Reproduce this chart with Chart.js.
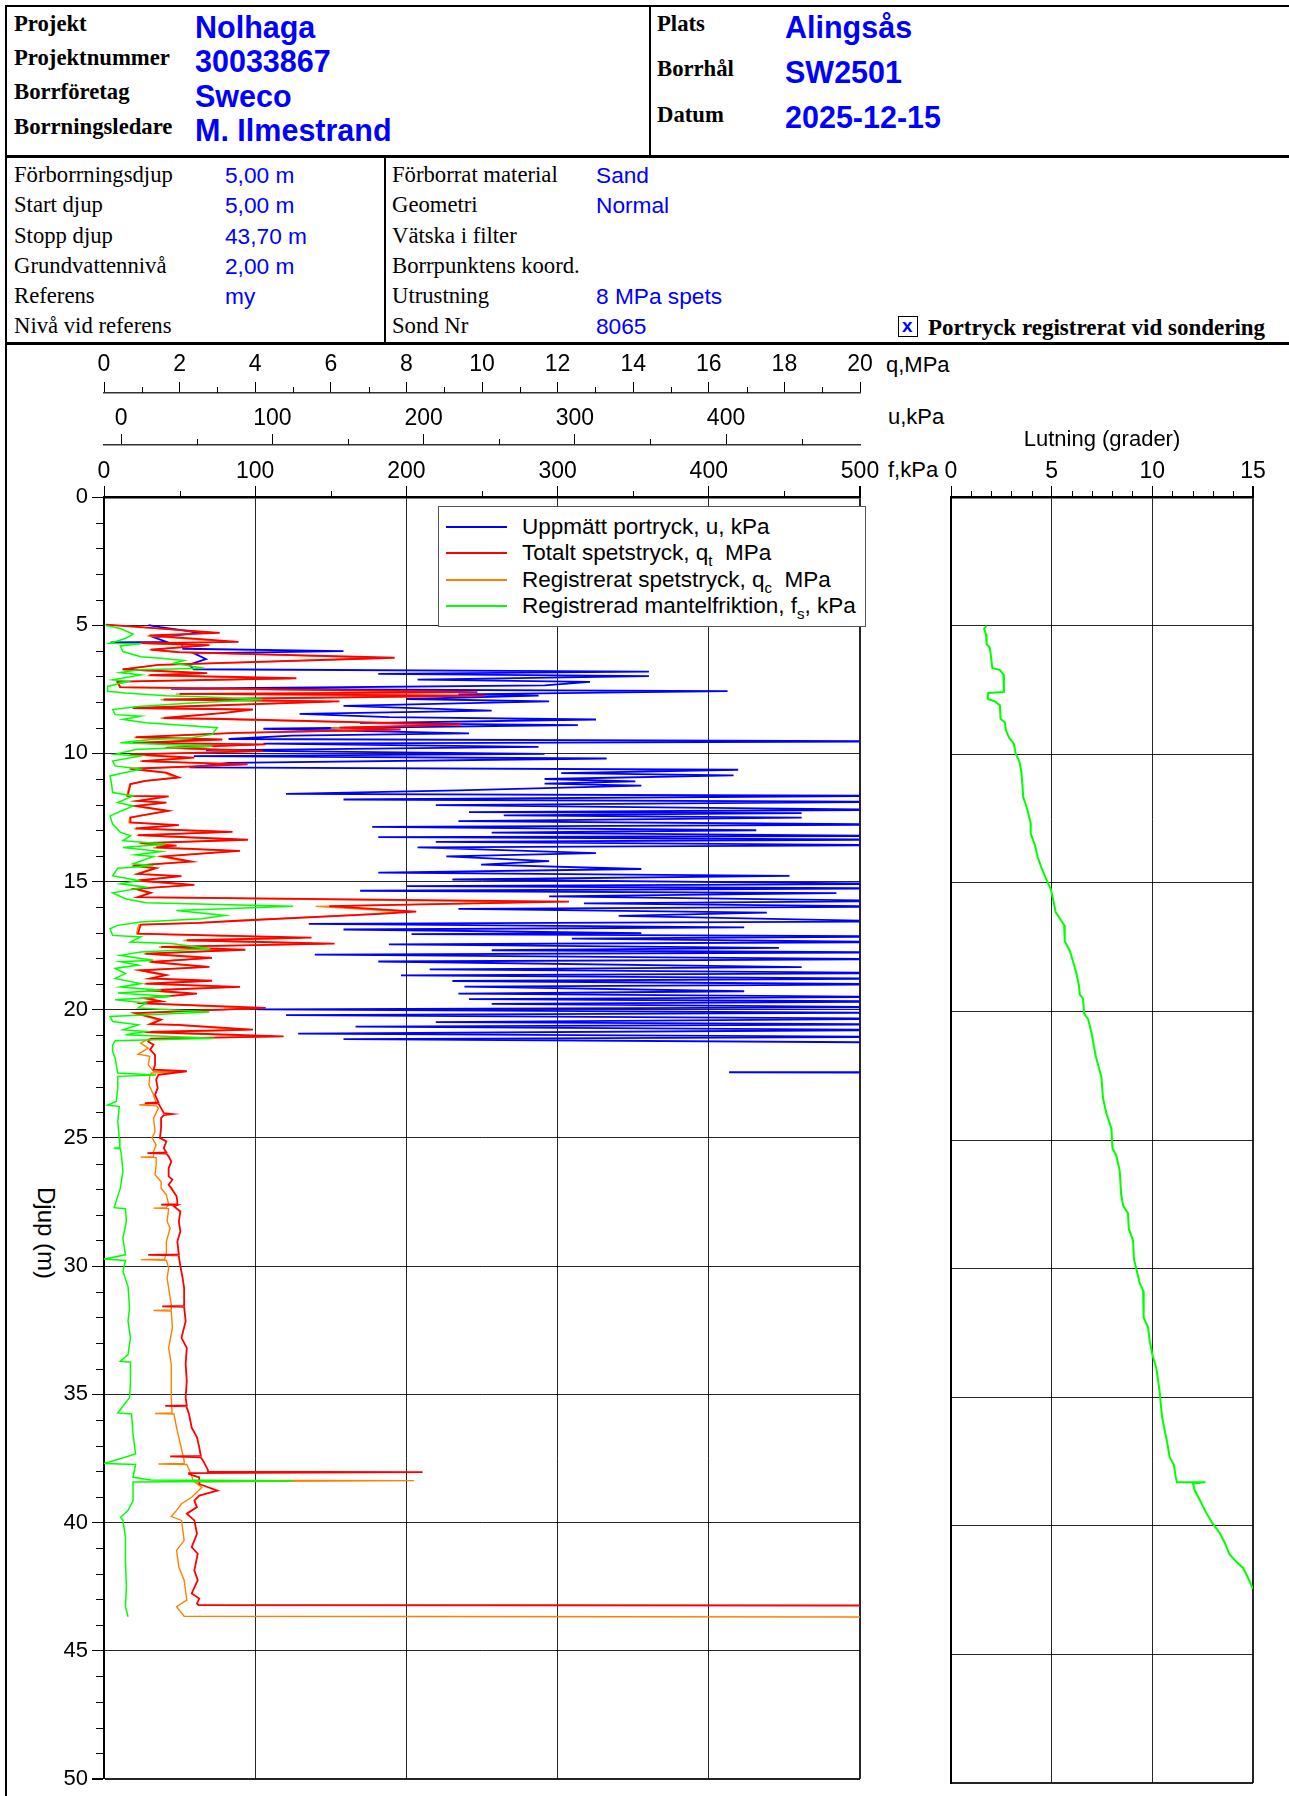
<!DOCTYPE html>
<html lang="sv">
<head>
<meta charset="utf-8">
<title>CPT-sondering SW2501 Nolhaga</title>
<script src="https://cdn.jsdelivr.net/npm/chart.js@4.4.1/dist/chart.umd.min.js"></script>
<style>
  html, body { margin: 0; padding: 0; background: #fff; }
  body { width: 1289px; height: 1796px; position: relative; overflow: hidden; font-family: "Liberation Sans", Arial, sans-serif; }
  .t { position: absolute; white-space: pre; line-height: 1; transform: translateY(-50%); }
  .rule { position: absolute; background: #000; }
  .lbl { font-family: "Liberation Serif", "Times New Roman", serif; font-size: 22.7px; color: #000; }
  .lbl.b { font-weight: bold; }
  .val { color: #0000ff; font-size: 22.7px; }
  .big { color: #0000ff; font-size: 30.5px; font-weight: bold; }
  .unit { font-size: 22px; color: #000; }
  #legend { position: absolute; left: 438px; top: 506px; width: 426px; height: 119px; border: 1.5px solid #555; background: #fff; }
  #legend .row { position: absolute; left: 0; height: 26px; width: 100%; }
  #legend .sw { position: absolute; left: 7px; top: 12px; width: 61px; height: 1.5px; }
  #legend .tx { position: absolute; left: 83px; top: 1px; font-size: 22.5px; white-space: pre; line-height: 24px; }
  #legend sub { font-size: 15px; vertical-align: -6px; line-height: 0; }
  canvas { position: absolute; }
</style>
</head>
<body>
<!-- ramar -->
<div class="rule" style="left:5px; top:5px; width:1284px; height:2px"></div>
<div class="rule" style="left:5px; top:5px; width:2px; height:1791px"></div>
<div class="rule" style="left:649px; top:5px; width:2px; height:152px"></div>
<div class="rule" style="left:5px; top:155px; width:1284px; height:3px"></div>
<div class="rule" style="left:384px; top:157px; width:1.5px; height:187px"></div>
<div class="rule" style="left:5px; top:342px; width:1284px; height:2.5px"></div>

<!-- huvud -->
<div class="t lbl b" style="left:14px; top:24px">Projekt</div>
<div class="t lbl b" style="left:14px; top:58px">Projektnummer</div>
<div class="t lbl b" style="left:14px; top:92px">Borrföretag</div>
<div class="t lbl b" style="left:14px; top:127px">Borrningsledare</div>
<div class="t big" style="left:195px; top:27px">Nolhaga</div>
<div class="t big" style="left:195px; top:61px">30033867</div>
<div class="t big" style="left:195px; top:96px">Sweco</div>
<div class="t big" style="left:195px; top:130px">M. Ilmestrand</div>
<div class="t lbl b" style="left:657px; top:24px">Plats</div>
<div class="t lbl b" style="left:657px; top:69px">Borrhål</div>
<div class="t lbl b" style="left:657px; top:115px">Datum</div>
<div class="t big" style="left:785px; top:27px">Alingsås</div>
<div class="t big" style="left:785px; top:72px">SW2501</div>
<div class="t big" style="left:785px; top:117px">2025-12-15</div>

<!-- info -->
<div class="t lbl" style="left:14px; top:175px">Förborrningsdjup</div>
<div class="t lbl" style="left:14px; top:205px">Start djup</div>
<div class="t lbl" style="left:14px; top:236px">Stopp djup</div>
<div class="t lbl" style="left:14px; top:266px">Grundvattennivå</div>
<div class="t lbl" style="left:14px; top:296px">Referens</div>
<div class="t lbl" style="left:14px; top:326px">Nivå vid referens</div>
<div class="t val" style="left:225px; top:175px">5,00 m</div>
<div class="t val" style="left:225px; top:205px">5,00 m</div>
<div class="t val" style="left:225px; top:236px">43,70 m</div>
<div class="t val" style="left:225px; top:266px">2,00 m</div>
<div class="t val" style="left:225px; top:296px">my</div>
<div class="t lbl" style="left:392px; top:175px">Förborrat material</div>
<div class="t lbl" style="left:392px; top:205px">Geometri</div>
<div class="t lbl" style="left:392px; top:236px">Vätska i filter</div>
<div class="t lbl" style="left:392px; top:266px">Borrpunktens koord.</div>
<div class="t lbl" style="left:392px; top:296px">Utrustning</div>
<div class="t lbl" style="left:392px; top:326px">Sond Nr</div>
<div class="t val" style="left:596px; top:175px">Sand</div>
<div class="t val" style="left:596px; top:205px">Normal</div>
<div class="t val" style="left:596px; top:296px">8 MPa spets</div>
<div class="t val" style="left:596px; top:326px">8065</div>
<div style="position:absolute; left:898px; top:316px; width:18px; height:19px; border:1.5px solid #000;"></div>
<div class="t" style="left:902px; top:325px; color:#0000ff; font-size:19px; font-weight:bold">x</div>
<div class="t lbl b" style="left:928px; top:327px; font-size:23px">Portryck registrerat vid sondering</div>

<!-- axelenheter -->
<div class="t unit" style="left:886px; top:365px">q,MPa</div>
<div class="t unit" style="left:888px; top:417px">u,kPa</div>
<div class="t unit" style="left:888px; top:470px">f,kPa</div>
<div class="t unit" style="left:46px; top:1233px; transform:translate(-50%,-50%) rotate(90deg); font-size:24px">Djup (m)</div>

<canvas id="main" width="900" height="1452" style="left:8px; top:344px; width:900px; height:1452px"></canvas>
<canvas id="lut" width="409" height="1452" style="left:880px; top:344px; width:409px; height:1452px"></canvas>

<div id="legend">
  <div class="row" style="top:7px"><div class="sw" style="background:#0000ff"></div><div class="tx">Uppmätt portryck, u, kPa</div></div>
  <div class="row" style="top:33px"><div class="sw" style="background:#ff0000"></div><div class="tx">Totalt spetstryck, q<sub>t</sub>  MPa</div></div>
  <div class="row" style="top:60px"><div class="sw" style="background:#ff8000"></div><div class="tx">Registrerat spetstryck, q<sub>c</sub>  MPa</div></div>
  <div class="row" style="top:86px"><div class="sw" style="background:#00ff00"></div><div class="tx">Registrerad mantelfriktion, f<sub>s</sub>, kPa</div></div>
</div>

<script>
(function () {
  "use strict";

  // axlar
  const fTicks = [0, 100, 200, 300, 400, 500];
  const fMinor = [50, 150, 250, 350, 450];
  const uTicks = [0, 100, 200, 300, 400];
  const uMinor = [50, 150, 250, 350, 450];
  const qTicks = [0, 2, 4, 6, 8, 10, 12, 14, 16, 18, 20];
  const qMinor = [1, 3, 5, 7, 9, 11, 13, 15, 17, 19];
  const depthTicks = [0, 5, 10, 15, 20, 25, 30, 35, 40, 45, 50];
  const depthMinor = [1, 2, 3, 4, 6, 7, 8, 9, 11, 12, 13, 14, 16, 17, 18, 19, 21, 22, 23, 24,
    26, 27, 28, 29, 31, 32, 33, 34, 36, 37, 38, 39, 41, 42, 43, 44, 46, 47, 48, 49];
  const lutTicks = [0, 5, 10, 15];
  const lutMinor = [1, 2, 3, 4, 6, 7, 8, 9, 11, 12, 13, 14];
  const uRange = [-11.4, 488.6];

  // [djup m, u kPa]
  const uPts = [
    [5.0, 18], [5.08, 26], [5.3, 52], [5.48, 22], [5.65, 30], [5.67, -7], [5.7, 40], [5.92, 41], [6.01, 147],
    [6.1, 48], [6.32, 56], [6.54, 45], [6.72, 48], [6.81, 349], [6.9, 170], [6.99, 349], [7.12, 196], [7.21, 310],
    [7.35, 280], [7.48, 33], [7.57, 401], [7.7, 223], [7.75, 276], [7.88, 189], [7.97, 283], [8.15, 147],
    [8.33, 245], [8.46, 118], [8.59, 177], [8.68, 314], [8.82, 158], [8.9, 302], [9.04, 94], [9.22, 230],
    [9.31, 113], [9.44, 71], [9.53, 540], [9.62, 94], [9.75, 276], [9.88, 56], [10.02, 280], [10.11, 48],
    [10.2, 321], [10.37, 71], [10.55, 45], [10.64, 408], [10.77, 291], [10.86, 405], [11.0, 280], [11.09, 340],
    [11.18, 280], [11.26, 344], [11.44, 223], [11.58, 109], [11.66, 520], [11.8, 147], [11.89, 520], [12.02, 208],
    [12.2, 520], [12.29, 230], [12.33, 450], [12.42, 253], [12.51, 450], [12.64, 223], [12.78, 520], [12.87, 166],
    [13.0, 420], [13.09, 245], [13.22, 520], [13.27, 170], [13.36, 520], [13.45, 208], [13.58, 520], [13.67, 196],
    [13.89, 314], [14.02, 215], [14.2, 283], [14.34, 238], [14.51, 344], [14.65, 170], [14.78, 442], [14.92, 219],
    [15.09, 520], [15.18, 189], [15.27, 520], [15.36, 158], [15.45, 473], [15.58, 283], [15.76, 520], [15.85, 306],
    [15.98, 520], [16.07, 223], [16.21, 427], [16.34, 329], [16.56, 520], [16.65, 124], [16.79, 412], [16.87, 147],
    [17.01, 344], [17.05, 192], [17.14, 520], [17.23, 298], [17.36, 520], [17.45, 177], [17.59, 435], [17.68, 245],
    [17.76, 520], [17.85, 128], [18.03, 520], [18.12, 170], [18.34, 450], [18.43, 204], [18.57, 520], [18.66, 185],
    [18.79, 520], [18.88, 219], [19.01, 520], [19.1, 227], [19.28, 412], [19.37, 223], [19.5, 520], [19.59, 230],
    [19.68, 520], [19.77, 245], [19.9, 520], [19.99, 90], [20.12, 520], [20.21, 109], [20.35, 520], [20.48, 208],
    [20.57, 520], [20.66, 155], [20.79, 520], [20.93, 117], [21.06, 520], [21.15, 147], [21.28, 520],
    [22.43, 560], [22.44, 402], [22.46, 560]
  ];

  // [djup m, qt MPa]
  const qtPts = [
    [4.98, 0.05], [5.3, 3.06], [5.4, 1.2], [5.65, 3.56], [5.7, 1.0], [5.78, 2.79], [5.95, 1.24], [6.05, 2.0],
    [6.27, 7.69], [6.55, 1.44], [6.72, 0.5], [6.87, 2.73], [6.95, 1.2], [7.07, 5.09], [7.2, 0.36], [7.42, 0.43],
    [7.61, 9.88], [7.68, 2.0], [7.75, 10.08], [7.9, 1.58], [7.97, 6.23], [8.23, 0.77], [8.29, 3.94], [8.42, 3.2],
    [8.62, 1.58], [8.66, 3.2], [8.88, 9.47], [9.0, 6.23], [9.07, 7.85], [9.2, 3.5], [9.37, 0.84], [9.46, 3.13],
    [9.59, 0.77], [9.65, 4.28], [9.78, 1.65], [9.91, 4.21], [10.04, 0.7], [10.17, 2.39], [10.3, 1.0], [10.43, 3.8],
    [10.6, 0.7], [10.75, 1.65], [10.94, 1.98], [11.07, 1.1], [11.2, 0.7], [11.66, 0.63], [11.68, 1.71], [11.85, 0.9],
    [11.92, 1.65], [12.05, 0.84], [12.24, 1.71], [12.5, 0.7], [12.69, 0.7], [12.8, 1.98], [12.93, 0.84], [13.06, 3.4],
    [13.19, 0.9], [13.37, 3.81], [13.5, 0.97], [13.6, 1.92], [13.67, 1.38], [13.8, 3.6], [14.02, 1.58], [14.22, 2.32],
    [14.38, 0.77], [14.48, 1.38], [14.7, 0.9], [14.79, 2.05], [14.96, 0.9], [15.13, 2.39], [15.28, 0.84], [15.44, 1.24],
    [15.61, 0.9], [15.78, 12.3], [15.96, 5.96], [16.17, 8.26], [16.26, 7.31], [16.52, 3.67], [16.61, 2.52], [16.68, 0.97],
    [17.03, 0.9], [17.19, 5.49], [17.29, 2.19], [17.42, 6.1], [17.55, 1.51], [17.66, 3.74], [17.81, 1.1], [17.98, 2.86],
    [18.13, 1.24], [18.33, 2.79], [18.46, 0.97], [18.65, 1.65], [18.78, 1.24], [18.87, 2.86], [18.98, 1.1], [19.11, 3.6],
    [19.24, 1.17], [19.37, 2.46], [19.55, 1.1], [19.67, 1.51], [19.74, 0.9], [19.93, 4.28], [20.13, 0.84], [20.39, 1.51],
    [20.56, 1.24], [20.59, 1.98], [20.78, 3.94], [20.87, 1.1], [21.04, 4.75], [21.13, 1.24], [21.24, 1.17], [21.37, 1.31],
    [21.56, 1.22], [21.76, 1.35], [22.15, 1.35], [22.34, 1.31], [22.4, 2.19], [22.54, 1.44], [22.73, 1.38], [23.06, 1.42],
    [23.32, 1.35], [23.62, 1.44], [23.64, 1.08], [23.66, 1.44], [23.84, 1.51], [24.03, 1.58], [24.07, 1.81], [24.11, 1.58],
    [24.23, 1.51], [24.62, 1.51], [25.0, 1.48], [25.14, 1.65], [25.4, 1.58], [25.57, 1.65], [25.59, 1.15], [25.61, 1.65],
    [25.72, 1.71], [25.92, 1.78], [26.18, 1.71], [26.5, 1.71], [26.63, 1.81], [26.83, 1.71], [26.96, 1.78], [27.28, 1.92],
    [27.48, 1.94], [27.58, 1.94], [27.6, 1.51], [27.62, 1.94], [27.67, 1.85], [27.87, 2.02], [28.26, 1.98], [28.65, 2.02],
    [29.04, 1.94], [29.54, 1.98], [29.56, 1.17], [29.58, 1.98], [29.62, 1.98], [30.0, 2.02], [30.47, 2.08], [30.86, 2.12],
    [31.37, 2.12], [31.55, 2.12], [31.57, 1.54], [31.59, 2.12], [32.15, 2.16], [32.8, 2.05], [33.19, 2.19], [33.83, 2.16],
    [34.48, 2.19], [35.13, 2.16], [35.43, 2.19], [35.45, 1.62], [35.47, 2.19], [35.52, 2.19], [35.78, 2.25], [36.3, 2.32],
    [36.68, 2.46], [37.07, 2.52], [37.4, 2.56], [37.42, 1.75], [37.46, 2.56], [37.59, 2.62], [37.95, 2.75], [38.02, 2.75],
    [38.04, 8.43], [38.08, 2.25], [38.11, 2.25], [38.24, 2.52], [38.5, 2.52], [38.76, 3.0], [38.95, 2.52], [39.15, 2.39],
    [39.4, 2.46], [39.66, 2.19], [39.92, 2.39], [40.44, 2.46], [40.96, 2.32], [41.22, 2.48], [41.87, 2.39], [42.25, 2.48],
    [42.77, 2.32], [42.97, 2.52], [43.16, 2.46], [43.22, 2.5], [43.25, 30]
  ];

  // [djup m, qc MPa]
  const qcPts = [
    [4.98, 0.05], [5.3, 2.95], [5.42, 1.15], [5.66, 3.4], [5.71, 0.95], [5.79, 2.7], [5.96, 1.2], [6.06, 1.9],
    [6.28, 7.5], [6.56, 1.4], [6.73, 0.48], [6.88, 2.65], [6.96, 1.15], [7.08, 4.95], [7.21, 0.34], [7.43, 0.42],
    [7.62, 9.6], [7.69, 1.9], [7.76, 9.75], [7.91, 1.5], [7.98, 6.0], [8.24, 0.75], [8.3, 3.8], [8.43, 3.1],
    [8.63, 1.5], [8.67, 3.1], [8.89, 9.2], [9.01, 6.0], [9.08, 7.6], [9.21, 3.4], [9.38, 0.8], [9.47, 3.0],
    [9.6, 0.75], [9.66, 4.1], [9.79, 1.6], [9.92, 4.05], [10.05, 0.68], [10.18, 2.3], [10.31, 0.95], [10.44, 3.65],
    [10.61, 0.68], [10.76, 1.6], [10.95, 1.9], [11.08, 1.05], [11.21, 0.68], [11.67, 0.6], [11.69, 1.62], [11.86, 0.86],
    [11.93, 1.58], [12.06, 0.8], [12.25, 1.62], [12.51, 0.68], [12.7, 0.66], [12.81, 1.88], [12.94, 0.8], [13.07, 3.25],
    [13.2, 0.86], [13.38, 3.65], [13.51, 0.92], [13.61, 1.82], [13.68, 1.3], [13.81, 3.45], [14.03, 1.5], [14.23, 2.2],
    [14.39, 0.74], [14.49, 1.3], [14.71, 0.86], [14.8, 1.95], [14.97, 0.86], [15.14, 2.28], [15.29, 0.8], [15.45, 1.18],
    [15.62, 0.86], [15.8, 11.5], [15.97, 5.6], [16.18, 7.9], [16.27, 7.0], [16.53, 3.5], [16.62, 2.4], [16.69, 0.92],
    [17.04, 0.86], [17.2, 5.25], [17.3, 2.1], [17.43, 5.85], [17.56, 1.45], [17.67, 3.55], [17.82, 1.05], [17.99, 2.72],
    [18.14, 1.18], [18.34, 2.66], [18.47, 0.92], [18.66, 1.58], [18.79, 1.18], [18.88, 2.72], [18.99, 1.05], [19.12, 3.42],
    [19.25, 1.12], [19.38, 2.35], [19.56, 1.05], [19.68, 1.45], [19.75, 0.86], [19.94, 4.05], [20.14, 0.8], [20.4, 1.45],
    [20.57, 1.18], [20.6, 1.88], [20.79, 3.75], [20.88, 1.05], [21.05, 4.5], [21.14, 1.18], [21.3, 0.97], [21.5, 1.17],
    [21.73, 0.9], [21.82, 1.21], [22.15, 1.17], [22.4, 1.31], [22.43, 2.05], [22.47, 1.25], [22.6, 1.21], [22.93, 1.19],
    [23.32, 1.31], [23.64, 1.38], [23.71, 0.93], [23.75, 1.38], [23.84, 1.44], [24.23, 1.31], [24.75, 1.35], [25.0, 1.27],
    [25.27, 1.38], [25.53, 1.31], [25.73, 1.31], [25.75, 0.97], [25.77, 1.38], [26.05, 1.38], [26.44, 1.35], [26.7, 1.51],
    [26.96, 1.51], [27.22, 1.65], [27.6, 1.71], [27.72, 1.65], [27.74, 1.31], [27.76, 1.71], [28.26, 1.67], [28.52, 1.75],
    [29.04, 1.65], [29.5, 1.65], [29.73, 1.6], [29.75, 0.97], [29.77, 1.65], [30.08, 1.71], [30.47, 1.67], [30.86, 1.71],
    [31.5, 1.78], [31.71, 1.78], [31.73, 1.31], [31.75, 1.78], [32.4, 1.81], [33.19, 1.71], [33.83, 1.78], [34.48, 1.78],
    [35.13, 1.78], [35.73, 1.8], [35.75, 1.35], [35.77, 1.85], [36.3, 1.92], [36.94, 2.02], [37.59, 2.12], [37.7, 2.12],
    [37.72, 1.44], [37.74, 2.19], [38.17, 2.32], [38.35, 2.35], [38.37, 8.2], [38.41, 2.39], [38.63, 2.59], [39.02, 2.32],
    [39.27, 2.05], [39.53, 1.92], [39.77, 1.78], [39.92, 2.05], [40.7, 2.12], [41.09, 1.92], [41.74, 1.98], [42.25, 2.12],
    [43.03, 2.19], [43.29, 1.92], [43.66, 2.12], [43.7, 30]
  ];

  // [djup m, fs kPa]
  const fsPts = [
    [5.0, 0.7], [5.13, 10.8], [5.35, 19.2], [5.52, 14.2], [5.71, 4.0], [5.72, 24.3], [5.81, 10.8], [6.03, 12.5],
    [6.23, 24.3], [6.29, 37.8], [6.38, 53.0], [6.49, 46.2], [6.68, 66.5], [6.74, 22.6], [6.85, 10.8], [6.94, 24.3],
    [7.13, 5.7], [7.2, 15.9], [7.39, 2.4], [7.58, 2.4], [7.65, 14.2], [7.75, 41.2], [7.8, 68.2], [7.9, 105],
    [8.04, 58], [8.17, 22.6], [8.29, 5.7], [8.49, 7.4], [8.55, 24.3], [8.68, 12.5], [8.81, 27.7], [9.0, 74.9],
    [9.26, 71.5], [9.39, 58], [9.46, 31], [9.59, 10.8], [9.65, 41.2], [9.72, 71.5], [9.85, 20.9], [10.04, 7.4],
    [10.1, 24.3], [10.3, 5.7], [10.49, 7.4], [10.62, 24.3], [10.75, 14.2], [10.88, 4.0], [11.2, 5.0], [11.53, 5.7],
    [11.66, 19.2], [11.92, 9.1], [12.05, 19.2], [12.44, 4.0], [12.76, 5.7], [13.08, 10.8], [13.21, 17.5], [13.41, 12.5],
    [13.54, 41.2], [13.67, 12.5], [13.83, 37.8], [13.96, 20.9], [14.02, 32.7], [14.31, 19.2], [14.38, 32.7], [14.48, 9.1],
    [14.77, 5.7], [14.96, 22.6], [15.09, 10.8], [15.22, 27.7], [15.44, 5.7], [15.67, 14.2], [15.83, 27.7], [15.96, 125],
    [16.13, 47.9], [16.32, 80], [16.45, 64.8], [16.58, 24.3], [16.71, 9.1], [16.84, 4.0], [17.1, 5.7], [17.16, 24.3],
    [17.36, 17.5], [17.42, 44.5], [17.62, 70], [17.75, 24.3], [17.88, 10.8], [18.07, 32.7], [18.13, 10.8], [18.26, 22.6],
    [18.39, 7.4], [18.59, 14.2], [18.78, 7.4], [18.98, 24.3], [19.11, 10.8], [19.24, 37.8], [19.35, 9.1], [19.48, 44.5],
    [19.61, 7.4], [19.74, 27.7], [19.93, 22.6], [20.09, 69.8], [20.26, 4.0], [20.46, 5.7], [20.59, 22.6], [20.78, 12.5],
    [20.85, 27.7], [20.98, 14.2], [21.11, 73.2], [21.21, 7.4], [21.37, 5.7], [21.63, 5.7], [21.89, 7.4], [22.47, 9.1],
    [22.55, 34.4], [22.6, 9.1], [23.06, 9.1], [23.58, 8.1], [23.72, 2.4], [23.78, 10.1], [24.36, 9.1], [25.0, 10.1],
    [25.38, 10.5], [25.4, 6.5], [25.42, 10.8], [25.66, 11.5], [26.31, 12.5], [26.96, 10.8], [27.72, 6.7], [27.76, 14.2],
    [28.26, 14.8], [28.91, 12.5], [29.56, 14.2], [29.72, 0], [29.78, 14.2], [30.2, 12.5], [30.8, 15.9], [31.63, 16.9],
    [32.15, 15.9], [32.8, 17.5], [33.45, 15.9], [33.71, 10.8], [33.75, 17.5], [34.48, 17.5], [35.13, 16.9], [35.73, 9.1],
    [35.77, 18.2], [36.55, 19.2], [37.33, 20.9], [37.7, 0], [37.74, 20.9], [38.24, 19.2], [38.34, 31], [38.38, 125],
    [38.42, 19.2], [38.5, 19.2], [39.15, 19.2], [39.53, 15.9], [39.8, 11], [39.92, 12.5], [40.57, 14.2], [41.48, 14.2],
    [42.51, 14.8], [43.29, 14.2], [43.68, 15.9]
  ];

  // [djup m, lutning grader]
  const lutPts = [
    [5.0, 1.77], [5.12, 1.64], [5.34, 1.74], [5.72, 1.77], [5.86, 1.93], [6.16, 1.98], [6.65, 2.05], [6.73, 2.43],
    [6.9, 2.6], [7.58, 2.63], [7.62, 1.85], [7.85, 1.82], [7.95, 2.18], [8.1, 2.43], [8.62, 2.46], [8.77, 2.68],
    [9.07, 2.73], [9.37, 2.89], [9.59, 3.12], [10.0, 3.22], [10.26, 3.39], [10.7, 3.5], [11.68, 3.59], [12.12, 3.78],
    [12.65, 3.95], [13.1, 3.96], [13.54, 4.17], [13.99, 4.3], [14.43, 4.5], [14.88, 4.74], [15.25, 4.96], [15.78, 5.11],
    [16.15, 5.2], [16.64, 5.62], [17.27, 5.65], [17.64, 5.9], [18.16, 6.1], [18.53, 6.23], [18.98, 6.35], [19.35, 6.4],
    [19.5, 6.56], [20.08, 6.61], [20.3, 6.81], [20.84, 6.98], [21.74, 7.19], [22.56, 7.47], [23.38, 7.55], [23.97, 7.72],
    [24.57, 7.97], [25.31, 8.02], [25.61, 8.21], [26.2, 8.38], [27.1, 8.45], [27.55, 8.55], [27.85, 8.79], [28.45, 8.83],
    [28.9, 9.04], [29.65, 9.09], [30.03, 9.21], [30.56, 9.37], [30.86, 9.54], [31.91, 9.57], [32.29, 9.79], [32.82, 9.87],
    [33.34, 10.0], [33.87, 10.2], [34.77, 10.36], [35.75, 10.48], [36.28, 10.61], [36.73, 10.73], [37.33, 10.86],
    [37.64, 11.07], [38.09, 11.16], [38.31, 11.22], [38.31, 12.64], [38.36, 12.02], [38.61, 12.1], [38.99, 12.35],
    [39.44, 12.64], [39.9, 12.98], [40.27, 13.34], [40.65, 13.59], [41.1, 13.83], [41.4, 14.17], [41.63, 14.5],
    [42.0, 14.74], [42.45, 15.0]
  ];

  const toXY = pts => pts.map(p => ({ x: p[1], y: p[0] }));
  const setTicks = list => scale => { scale.ticks = list.map(v => ({ value: v })); };
  const gridDark = "rgba(0,0,0,0.85)";

  const minorTicks = {
    id: "minorTicks",
    afterDraw(chart, args, opts) {
      const ctx = chart.ctx;
      ctx.save();
      ctx.strokeStyle = "#000";
      ctx.lineWidth = 1;
      (opts.axes || []).forEach(a => {
        const scale = chart.scales[a.id];
        a.values.forEach(v => {
          const p = Math.round(scale.getPixelForValue(v)) + 0.5;
          ctx.beginPath();
          if (scale.isHorizontal()) {
            ctx.moveTo(p, scale.bottom);
            ctx.lineTo(p, scale.bottom - a.len);
          } else {
            ctx.moveTo(scale.right, p);
            ctx.lineTo(scale.right - a.len, p);
          }
          ctx.stroke();
        });
      });
      ctx.restore();
    }
  };

  Chart.defaults.font.family = "\"Liberation Sans\", Arial, sans-serif";
  Chart.defaults.font.size = 23;
  Chart.defaults.color = "#000";
  Chart.defaults.animation = false;

  const tickFont = { size: 23 };

  function line(label, pts, axis, color, width, order) {
    return {
      label, data: toXY(pts), xAxisID: axis, yAxisID: "y",
      showLine: true, borderColor: color, backgroundColor: color,
      borderWidth: width, pointRadius: 0, tension: 0, order
    };
  }

  new Chart(document.getElementById("main"), {
    type: "scatter",
    data: {
      datasets: [
        line("Registrerad mantelfriktion", fsPts, "xf", "#00ff00", 1.5, 0),
        line("Totalt spetstryck", qtPts, "xq", "#ff0000", 1.8, 1),
        line("Registrerat spetstryck", qcPts, "xq", "#ff8000", 1.4, 2),
        line("Uppmätt portryck", uPts, "xu", "#0000ff", 1.8, 3)
      ]
    },
    options: {
      responsive: false,
      maintainAspectRatio: false,
      devicePixelRatio: 1,
      layout: { padding: { left: 0, right: 48, top: 0, bottom: 13 } },
      plugins: {
        legend: { display: false },
        tooltip: { enabled: false },
        minorTicks: {
          axes: [
            { id: "xf", values: fMinor, len: 6 },
            { id: "xu", values: uMinor, len: 6 },
            { id: "xq", values: qMinor, len: 6 },
            { id: "y", values: depthMinor, len: 8 }
          ]
        }
      },
      scales: {
        xf: {
          type: "linear", position: "top", weight: 0, min: 0, max: 500,
          afterBuildTicks: setTicks(fTicks),
          afterFit: s => { s.height = 52; },
          ticks: { font: tickFont, padding: 1, maxRotation: 0, autoSkip: false },
          grid: { color: gridDark, lineWidth: ctx => ctx.tick && ctx.tick.value === 500 ? 2 : 1, tickLength: 11, tickColor: "#000" },
          border: { display: true, color: "#000", width: 2.5 }
        },
        xu: {
          type: "linear", position: "top", weight: 1, min: uRange[0], max: uRange[1],
          afterBuildTicks: setTicks(uTicks),
          afterFit: s => { s.height = 52; },
          ticks: { font: tickFont, padding: 2, maxRotation: 0, autoSkip: false },
          grid: { drawOnChartArea: false, tickLength: 11, tickColor: "#000" },
          border: { display: true, color: "#333", width: 1.5 }
        },
        xq: {
          type: "linear", position: "top", weight: 2, min: 0, max: 20,
          afterBuildTicks: setTicks(qTicks),
          afterFit: s => { s.height = 49; },
          ticks: { font: tickFont, padding: 4, maxRotation: 0, autoSkip: false },
          grid: { drawOnChartArea: false, tickLength: 11, tickColor: "#000" },
          border: { display: true, color: "#333", width: 1.5 }
        },
        y: {
          type: "linear", position: "left", reverse: true, min: 0, max: 50,
          afterBuildTicks: setTicks(depthTicks),
          afterFit: s => { s.width = 96; },
          ticks: { font: { size: 22 }, padding: 4, autoSkip: false },
          grid: {
            color: gridDark,
            lineWidth: ctx => ctx.tick && (ctx.tick.value === 50) ? 2 : 1,
            tickLength: 12, tickColor: "#000"
          },
          border: { display: true, color: "#000", width: 2 }
        }
      }
    },
    plugins: [minorTicks]
  });

  new Chart(document.getElementById("lut"), {
    type: "scatter",
    data: {
      datasets: [
        { label: "Lutning", data: toXY(lutPts), xAxisID: "xl", yAxisID: "y", showLine: true,
          borderColor: "#00ff00", backgroundColor: "#00ff00", borderWidth: 2, pointRadius: 0, tension: 0 }
      ]
    },
    options: {
      responsive: false,
      maintainAspectRatio: false,
      devicePixelRatio: 1,
      layout: { padding: { left: 0, right: 36, top: 0, bottom: 13 } },
      plugins: {
        legend: { display: false },
        tooltip: { enabled: false },
        minorTicks: { axes: [{ id: "xl", values: lutMinor, len: 6 }] }
      },
      scales: {
        xl: {
          type: "linear", position: "top", min: 0, max: 15,
          afterBuildTicks: setTicks(lutTicks),
          afterFit: s => { s.height = 153; },
          title: { display: true, text: "Lutning (grader)", font: { size: 22 }, color: "#000", padding: { top: 83, bottom: 0 } },
          ticks: { font: tickFont, padding: 1, maxRotation: 0, autoSkip: false },
          grid: { color: gridDark, lineWidth: ctx => ctx.tick && ctx.tick.value === 15 ? 2 : 1, tickLength: 11, tickColor: "#000" },
          border: { display: true, color: "#000", width: 2.5 }
        },
        y: {
          type: "linear", position: "left", reverse: true, min: 0, max: 50,
          afterBuildTicks: setTicks(depthTicks),
          afterFit: s => { s.width = 71; },
          ticks: { display: false },
          grid: { color: gridDark, lineWidth: ctx => ctx.tick && ctx.tick.value === 50 ? 2 : 1, drawTicks: false },
          border: { display: true, color: "#000", width: 2 }
        }
      }
    },
    plugins: [minorTicks]
  });
})();
</script>
</body>
</html>
